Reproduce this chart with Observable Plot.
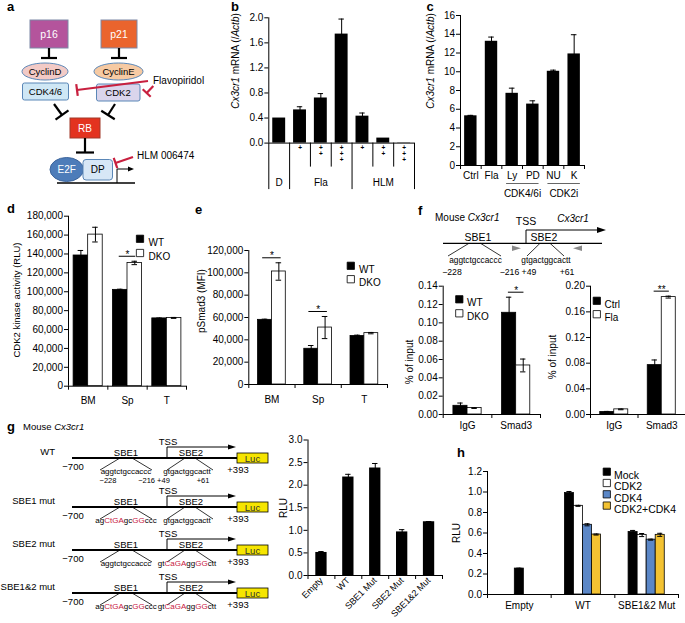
<!DOCTYPE html>
<html><head><meta charset="utf-8">
<script src="https://cdn.jsdelivr.net/npm/d3@7"></script>
<script src="https://cdn.jsdelivr.net/npm/@observablehq/plot@0.6"></script>
<style>
html,body{margin:0;padding:0;background:#fff;}
#fig{position:relative;width:685px;height:623px;overflow:hidden;background:#fff;font-family:"Liberation Sans",Arial,Helvetica,sans-serif;}
#fig svg{position:absolute;}
</style></head><body><div id="fig"></div>
<script>
// ---------------- data ----------------
// panel b
const bDose = ["", "+", "++", "+++", "+", "++", "+++"];
const bGroupOf = ["D", "Fla", "Fla", "Fla", "HLM", "HLM", "HLM"];
const bGroups = ["D", "Fla", "HLM"];
const bValues = [0.40, 0.53, 0.72, 1.74, 0.43, 0.08, 0.004];
const bErrors = [0, 0.05, 0.07, 0.24, 0.05, 0, 0];
const bTicks = [0, 0.4, 0.8, 1.2, 1.6, 2.0];
// panel c
const cCats = ["Ctrl", "Fla", "Ly", "PD", "NU", "K"];
const cValues = [5.3, 13.25, 7.7, 6.55, 10.05, 11.9];
const cErrors = [0.05, 0.45, 0.55, 0.35, 0.12, 2.05];
const cTicks = [0, 2, 4, 6, 8, 10, 12, 14, 16];
const cGroupLabels = ["CDK4/6i", "CDK2i"];
const cGroupFirst = ["Ly", "NU"];
const cGroupLast = ["PD", "K"];
// panel d
const dGroups = ["BM", "Sp", "T"];
const dSeries = ["WT", "DKO"];
const dWT = [138400, 102000, 71800];
const dWTErr = [5300, 700, 400];
const dDKO = [160500, 130500, 72300];
const dDKOErr = [7800, 1800, 500];
const dTicks = [0, 20000, 40000, 60000, 80000, 100000, 120000, 140000, 160000, 180000];
const dSigGroups = ["Sp"];
const dSigLabels = ["*"];
// panel e
const eGroups = ["BM", "Sp", "T"];
const eSeries = ["WT", "DKO"];
const eWT = [57900, 32000, 43500];
const eWTErr = [600, 2900, 700];
const eDKO = [101200, 51000, 46000];
const eDKOErr = [7800, 9900, 600];
const eTicks = [0, 20000, 40000, 60000, 80000, 100000, 120000];
const eSigGroups = ["BM", "Sp"];
const eSigLabels = ["*", "*"];
// panel f (left)
const fGroups = ["IgG", "Smad3"];
const f1Series = ["WT", "DKO"];
const f1WT = [0.0095, 0.111];
const f1WTErr = [0.003, 0.017];
const f1DKO = [0.007, 0.0535];
const f1DKOErr = [0.0004, 0.007];
const f1Ticks = [0, 0.02, 0.04, 0.06, 0.08, 0.10, 0.12, 0.14];
const f1SigGroups = ["Smad3"];
const f1SigLabels = ["*"];
// panel f (right)
const f2Series = ["Ctrl", "Fla"];
const f2Ctrl = [0.004, 0.077];
const f2CtrlErr = [0.0008, 0.008];
const f2Fla = [0.008, 0.183];
const f2FlaErr = [0.0006, 0.0015];
const f2Ticks = [0, 0.04, 0.08, 0.12, 0.16, 0.20];
const f2SigGroups = ["Smad3"];
const f2SigLabels = ["**"];
// panel g
const gCats = ["Empty", "WT", "SBE1 Mut", "SBE2 Mut", "SBE1&2 Mut"];
const gValues = [0.51, 2.18, 2.38, 0.965, 1.19];
const gErrors = [0.02, 0.06, 0.10, 0.05, 0.005];
const gTicks = [0, 0.5, 1.0, 1.5, 2.0, 2.5, 3.0];
// panel h
const hGroups = ["Empty", "WT", "SBE1&2 Mut"];
const hSeries = ["Mock", "CDK2", "CDK4", "CDK2+CDK4"];
const hMock = [0.253, 0.99, 0.61];
const hMockErr = [0.004, 0.015, 0.015];
const hCDK2 = [null, 0.865, 0.58];
const hCDK2Err = [null, 0.005, 0.015];
const hCDK4 = [null, 0.68, 0.535];
const hCDK4Err = [null, 0.01, 0.005];
const hBoth = [null, 0.585, 0.582];
const hBothErr = [null, 0.005, 0.015];
const hTicks = [0, 0.2, 0.4, 0.6, 0.8, 1.0, 1.2];

const binaryColors = ["#000000", "#ffffff"];
const hColors = ["#000000", "#ffffff", "#5b87c7", "#f3c232"];

// ---------------- helpers ----------------
const FONT = '"Liberation Sans", Arial, Helvetica, sans-serif';
const fig = document.getElementById("fig");

function place(svg, left, top) {
  svg.style.position = "absolute";
  svg.style.left = left + "px";
  svg.style.top = top + "px";
  fig.appendChild(svg);
}

function errorMarks(rows, xf, cap) {
  const r = rows.filter(d => d.err > 0);
  return [
    Plot.ruleX(r, {x: xf, y1: d => d.value - d.err, y2: d => d.value + d.err, stroke: "#000", strokeWidth: 1}),
    Plot.ruleY(r, {x1: d => xf(d) - cap, x2: d => xf(d) + cap, y: d => d.value + d.err, stroke: "#000", strokeWidth: 1}),
    Plot.ruleY(r, {x1: d => xf(d) - cap, x2: d => xf(d) + cap, y: d => d.value - d.err, stroke: "#000", strokeWidth: 1})
  ];
}

function barChart(cfg) {
  const {left, top, width, height, x0, x1, y0, yT, yMax, n} = cfg;
  const marks = [
    ...cfg.marks,
    Plot.ruleX([-0.5], {y1: 0, y2: yMax, stroke: "#000", strokeWidth: 1}),
    Plot.axisY({ticks: cfg.ticks, tickFormat: cfg.fmt, tickSize: 4, tickPadding: 1.5, label: null}),
    Plot.ruleY([0], {x1: -0.5, x2: n - 0.5, stroke: "#000", strokeWidth: 1})
  ];
  if (cfg.boundaryTicks !== false) {
    marks.push(Plot.ruleX(d3.range(n + 1).map(i => i - 0.5), {y1: 0, y2: 0, insetBottom: -4, stroke: "#000"}));
  }
  if (cfg.labels) {
    marks.push(Plot.axisX({ticks: d3.range(n), tickFormat: i => cfg.labels[i], tickSize: 0, tickPadding: cfg.labelPad, label: null}));
  }
  const opts = {
    width, height,
    marginLeft: x0 - left, marginRight: left + width - x1,
    marginTop: yT - top, marginBottom: top + height - y0,
    x: {type: "linear", domain: [-0.5, n - 0.5], axis: null},
    y: {type: "linear", domain: [0, yMax], axis: null},
    style: {background: "transparent", overflow: "visible", fontFamily: FONT, fontSize: "10px", color: "#000"},
    marks
  };
  if (cfg.color) opts.color = cfg.color;
  place(Plot.plot(opts), left, top);
}

function legendMarks(series, colors, cx, cy0, gap, textX, frameX, frameY, fs) {
  return series.flatMap((s, i) => [
    Plot.dot([s], {frameAnchor: "top-left", dx: cx - frameX, dy: cy0 + i * gap - frameY, symbol: "square", r: 4.1, fill: colors[i], stroke: "#000", strokeWidth: 0.8}),
    Plot.text([s], {frameAnchor: "top-left", dx: textX - frameX, dy: cy0 + i * gap - frameY, text: d => d, textAnchor: "start", fontSize: fs})
  ]);
}

function groupedChart(cfg) {
  const rows = [];
  cfg.groups.forEach((g, gi) => {
    const present = cfg.series.map((s, j) => j).filter(j => cfg.values[j][gi] != null);
    present.forEach((j, k) => rows.push({group: g, gi, series: cfg.series[j], k, m: present.length, value: cfg.values[j][gi], err: cfg.errors[j][gi]}));
  });
  const bw = cfg.bw;
  const xp = r => r.gi + (r.k - (r.m - 1) / 2) * bw;
  const sig = (cfg.sigGroups || []).map((g, i) => ({
    gi: cfg.groups.indexOf(g),
    top: d3.max(rows.filter(r => r.group === g), r => r.value + r.err),
    label: cfg.sigLabels[i]
  }));
  const marks = [
    Plot.rect(rows, {x1: r => xp(r) - bw / 2, x2: r => xp(r) + bw / 2, y1: 0, y2: "value", fill: "series", stroke: "#000", strokeWidth: 0.8}),
    ...errorMarks(rows, xp, cfg.cap),
    Plot.ruleY(sig, {x1: d => d.gi - cfg.sigHalf, x2: d => d.gi + cfg.sigHalf, y: "top", dy: -5, stroke: "#000", strokeWidth: 1}),
    Plot.text(sig, {x: "gi", y: "top", text: "label", dy: -6.5, fontSize: 10}),
    ...legendMarks(cfg.series, cfg.colors, cfg.legX, cfg.legY, cfg.legGap, cfg.legTextX, cfg.x0, cfg.yT, cfg.legFs || 10)
  ];
  barChart({...cfg, n: cfg.groups.length, labels: cfg.groups, marks,
    color: {domain: cfg.series, range: cfg.colors, legend: false}});
}

// ---------------- overlay (schematics, titles, panel letters) ----------------
const RED = "#c8203f";
function tInhib(x1, y1, x2, y2, half, color, w) {
  const dx = x2 - x1, dy = y2 - y1, L = Math.hypot(dx, dy);
  const px = -dy / L * half, py = dx / L * half;
  return `<line x1="${x1}" y1="${y1}" x2="${x2}" y2="${y2}" stroke="${color}" stroke-width="${w}"/>` +
         `<line x1="${x2 - px}" y1="${y2 - py}" x2="${x2 + px}" y2="${y2 + py}" stroke="${color}" stroke-width="${w}"/>`;
}
function esc(s) { return s.replace(/&/g, "&amp;").replace(/</g, "&lt;"); }
function ctext(x, y, t, fs, extra = "") {
  return `<text x="${x}" y="${y}" font-size="${fs}" text-anchor="middle" dominant-baseline="central" ${extra}>${esc(t)}</text>`;
}
function vtext(x, y, parts, fs) {
  return `<text transform="translate(${x},${y}) rotate(-90)" text-anchor="middle" font-size="${fs}">` +
    parts.map(([t, it]) => `<tspan${it ? ' font-style="italic"' : ''}>${esc(t)}</tspan>`).join("") + `</text>`;
}
function seqText(x, y, segs, fs) {
  return `<text x="${x}" y="${y}" font-size="${fs}" text-anchor="middle">` +
    segs.map(([t, r]) => `<tspan fill="${r ? RED : '#000'}">${t}</tspan>`).join("") + `</text>`;
}
function letter(x, y, t) {
  return `<text x="${x}" y="${y}" font-size="13" font-weight="bold">${t}</text>`;
}

let ov = "";
// panel letters
ov += letter(7, 11, "a") + letter(231, 11, "b") + letter(426.5, 11, "c") + letter(7, 213, "d") +
      letter(195, 214, "e") + letter(418, 215, "f") + letter(7, 431, "g") + letter(457, 457, "h");

// panel a schematic
const BL = "#5b87b7";
ov += `<rect x="30" y="20" width="38" height="28" fill="#b4549c" stroke="#7d87a6"/>`;
ov += ctext(49, 34, "p16", 10.5, 'fill="#fff"');
ov += `<rect x="101" y="20" width="36" height="28" fill="#ea642d" stroke="#7d87a6"/>`;
ov += ctext(119, 34, "p21", 10.5, 'fill="#fff"');
ov += tInhib(49, 48, 49, 58, 8, "#000", 2.2) + tInhib(119, 48, 119, 58, 8, "#000", 2.2);
ov += `<ellipse cx="45" cy="71.5" rx="23" ry="8.5" fill="#f2cac6" stroke="${BL}"/>` + ctext(45, 71.5, "CyclinD", 9.5);
ov += `<ellipse cx="118.5" cy="71.5" rx="24.5" ry="8.5" fill="#f6caa3" stroke="${BL}"/>` + ctext(118.5, 71.5, "CyclinE", 9.5);
ov += `<rect x="22.5" y="83" width="46" height="17" rx="2" fill="#cfe7f5" stroke="${BL}"/>` + ctext(45.5, 91.5, "CDK4/6", 9.5);
ov += `<rect x="96.5" y="84" width="43.5" height="17" rx="2" fill="#dad5ec" stroke="${BL}"/>` + ctext(118, 92.5, "CDK2", 9.5);
ov += tInhib(148, 81, 77, 90, 6, RED, 2.2) + tInhib(153.3, 86, 146.7, 93, 5.5, RED, 2.2);
ov += `<text x="153" y="80" font-size="10" dominant-baseline="central">Flavopiridol</text>`;
ov += tInhib(54, 104, 62, 115, 8, "#000", 2.2) + tInhib(115, 104, 108, 115, 8, "#000", 2.2);
ov += `<rect x="70" y="118" width="30" height="20" fill="#e3331f" stroke="#a23a2a"/>` + ctext(85, 128, "RB", 10, 'fill="#fff"');
ov += tInhib(85, 138, 85, 152.5, 9, "#000", 2.2);
ov += `<ellipse cx="66.7" cy="169.5" rx="16.7" ry="12" fill="#4d7cb9" stroke="#3d659c"/>` + ctext(66.7, 169.5, "E2F", 10, 'fill="#fff"');
ov += `<rect x="83" y="159.5" width="29.5" height="20.5" rx="3" fill="#d7e7f6" stroke="${BL}"/>` + ctext(97.7, 169.7, "DP", 10);
ov += tInhib(133, 157, 115.5, 163, 5.5, RED, 2.2);
ov += `<text x="137" y="155" font-size="10" dominant-baseline="central">HLM 006474</text>`;
ov += `<line x1="57" y1="183" x2="135" y2="183" stroke="#000" stroke-width="1.3"/>`;
ov += `<polyline points="117,183 117,169 129,169" fill="none" stroke="#000" stroke-width="1"/><path d="M128,166.5 L134,169 L128,171.5 Z" fill="#000"/>`;

// axis titles
ov += vtext(238.5, 61, [["Cx3cr1", true], [" mRNA (/", false], ["Actb", true], [")", false]], 10);
ov += vtext(433.5, 61, [["Cx3cr1", true], [" mRNA (/", false], ["Actb", true], [")", false]], 10);
ov += vtext(20, 300, [["CDK2 kinase activity (RLU)", false]], 9.5);
ov += vtext(205, 301, [["pSmad3  (MFI)", false]], 10);
ov += vtext(413, 362, [["% of input", false]], 10);
ov += vtext(555.5, 357, [["% of input", false]], 10);
ov += vtext(287, 508, [["RLU", false]], 10);
ov += vtext(460, 533, [["RLU", false]], 10);

// panel f schematic
ov += `<text x="435" y="221" font-size="10">Mouse <tspan font-style="italic">Cx3cr1</tspan></text>`;
ov += `<text x="526" y="225" font-size="10.5" text-anchor="middle">TSS</text>`;
ov += `<text x="573" y="222" font-size="10" text-anchor="middle" font-style="italic">Cx3cr1</text>`;
ov += `<line x1="443" y1="243.3" x2="602" y2="243.3" stroke="#000" stroke-width="1.3"/>`;
ov += `<polyline points="526,243.3 526,230 598,230" fill="none" stroke="#000" stroke-width="1"/><path d="M597,227 L606,230 L597,233 Z" fill="#000"/>`;
ov += `<text x="478" y="241" font-size="10.5" text-anchor="middle">SBE1</text><text x="544" y="241" font-size="10.5" text-anchor="middle">SBE2</text>`;
ov += `<line x1="469" y1="243.3" x2="448" y2="256" stroke="#000" stroke-width="0.8"/><line x1="480.5" y1="243.3" x2="501" y2="256" stroke="#000" stroke-width="0.8"/>`;
ov += `<line x1="540" y1="243.3" x2="527" y2="256" stroke="#000" stroke-width="0.8"/><line x1="550" y1="243.3" x2="564" y2="256" stroke="#000" stroke-width="0.8"/>`;
ov += seqText(475.5, 263, [["aggtctgccaccc", 0]], 8.3) + seqText(546, 263, [["gtgactggcactt", 0]], 8.3);
ov += `<text x="452" y="275" font-size="8.7" text-anchor="middle">−228</text><text x="518" y="275" font-size="8.7" text-anchor="middle">−216 +49</text><text x="567" y="275" font-size="8.7" text-anchor="middle">+61</text>`;
ov += `<path d="M512,245.6 L521,248.3 L512,251 Z" fill="#888"/><path d="M582,245.6 L573,248.3 L582,251 Z" fill="#888"/>`;

// panel g schematic
ov += `<text x="23" y="430" font-size="9.5">Mouse <tspan font-style="italic">Cx3cr1</tspan></text>`;
const gRowNames = ["WT", "SBE1 mut", "SBE2 mut", "SBE1&2 mut"];
const gRowY = [458, 507, 550, 593];
const seq1wt = [["aggtctgccaccc", 0]];
const seq1mut = [["ag", 0], ["CtGA", 1], ["gc", 0], ["GG", 1], ["ccc", 0]];
const seq2wt = [["gtgactggcactt", 0]];
const seq2mut = [["gt", 0], ["CaGA", 1], ["gg", 0], ["GG", 1], ["ctt", 0]];
const gSeq1 = [seq1wt, seq1mut, seq1wt, seq1mut];
const gSeq2 = [seq2wt, seq2wt, seq2mut, seq2mut];
gRowNames.forEach((name, i) => {
  const y = gRowY[i];
  ov += `<text x="55" y="${y - 3}" font-size="9.5" text-anchor="end">${esc(name)}</text>`;
  ov += `<line x1="72" y1="${y}" x2="237" y2="${y}" stroke="#000" stroke-width="1.8"/>`;
  ov += `<rect x="237" y="${y - 5}" width="31" height="10" fill="#f6e500" stroke="#000" stroke-width="0.8"/>`;
  ov += ctext(252.5, y + 0.3, "Luc", 9.5, 'fill="#333"');
  ov += `<text x="168" y="${y - 13.5}" font-size="9.5" text-anchor="middle">TSS</text>`;
  ov += `<polyline points="167,${y} 167,${y - 11} 229,${y - 11}" fill="none" stroke="#000" stroke-width="1"/><path d="M228,${y - 13.5} L236,${y - 11} L228,${y - 8.5} Z" fill="#000"/>`;
  ov += `<text x="126" y="${y - 2.5}" font-size="9.5" text-anchor="middle">SBE1</text><text x="191" y="${y - 2.5}" font-size="9.5" text-anchor="middle">SBE2</text>`;
  ov += `<line x1="120" y1="${y}" x2="100" y2="${y + 12}" stroke="#000" stroke-width="0.8"/><line x1="132" y1="${y}" x2="152" y2="${y + 12}" stroke="#000" stroke-width="0.8"/>`;
  ov += `<line x1="185" y1="${y}" x2="167" y2="${y + 12}" stroke="#000" stroke-width="0.8"/><line x1="195" y1="${y}" x2="213" y2="${y + 12}" stroke="#000" stroke-width="0.8"/>`;
  ov += seqText(126, y + 15.5, gSeq1[i], 8) + seqText(187, y + 15.5, gSeq2[i], 8);
  ov += `<text x="73" y="${y + 12}" font-size="9.5" text-anchor="middle">−700</text>`;
  ov += `<text x="238" y="${y + 15}" font-size="9.5" text-anchor="middle">+393</text>`;
  if (i === 0) {
    ov += `<text x="108" y="${y + 25}" font-size="7.5" text-anchor="middle">−228</text><text x="154" y="${y + 25}" font-size="7.5" text-anchor="middle">−216 +49</text><text x="203" y="${y + 25}" font-size="7.5" text-anchor="middle">+61</text>`;
  }
});

const overlay = document.createElementNS("http://www.w3.org/2000/svg", "svg");
overlay.setAttribute("width", 685); overlay.setAttribute("height", 623);
overlay.setAttribute("font-family", FONT);
overlay.style.left = "0px"; overlay.style.top = "0px";
overlay.innerHTML = ov;
fig.appendChild(overlay);

// ---------------- charts ----------------
// b
const bRows = bValues.map((v, i) => ({i, value: v, err: bErrors[i], dose: bDose[i], group: bGroupOf[i]}));
const bPlus = bRows.flatMap(r => d3.range(r.dose.length).map(level => ({i: r.i, level, sign: r.dose[level]})));
const bBounds = d3.range(bValues.length + 1);
const isLong = k => k === 0 || k === bValues.length || bGroupOf[k - 1] !== bGroupOf[k];
barChart({
  left: 220, top: 0, width: 200, height: 205, x0: 268.3, x1: 414, y0: 142.6, yT: 17.3, yMax: 2.0, n: bValues.length,
  ticks: bTicks, fmt: d => d.toFixed(1), boundaryTicks: false,
  marks: [
    Plot.rect(bRows, {x1: d => d.i - 0.31, x2: d => d.i + 0.31, y1: 0, y2: "value", fill: "#000"}),
    ...errorMarks(bRows, d => d.i, 0.13),
    Plot.ruleX(bBounds.filter(isLong).map(k => k - 0.5), {y1: 0, y2: 0, insetBottom: -46.5, stroke: "#000"}),
    Plot.ruleX(bBounds.filter(k => !isLong(k)).map(k => k - 0.5), {y1: 0, y2: 0, insetBottom: -24, stroke: "#000"}),
    ...[0, 1, 2].map(level => Plot.text(bPlus.filter(p => p.level === level), {x: "i", y: 0, text: "sign", dy: 4.4 + level * 6.4, fontSize: 6.5, fontWeight: "bold", fill: "#000"})),
    Plot.text(bGroups, {x: g => d3.mean(bRows.filter(r => r.group === g), r => r.i), y: 0, text: d => d, dy: 39.3, fontSize: 10})
  ]
});

// c
const cRows = cValues.map((v, i) => ({i, value: v, err: cErrors[i]}));
const cGroupData = cGroupLabels.map((label, j) => ({label, first: cCats.indexOf(cGroupFirst[j]), last: cCats.indexOf(cGroupLast[j])}));
barChart({
  left: 430, top: 0, width: 255, height: 205, x0: 460, x1: 584, y0: 165, yT: 15, yMax: 16, n: cCats.length,
  ticks: cTicks, fmt: d => String(d), labels: cCats, labelPad: 6.6,
  marks: [
    Plot.rect(cRows, {x1: d => d.i - 0.3, x2: d => d.i + 0.3, y1: 0, y2: "value", fill: "#000"}),
    ...errorMarks(cRows, d => d.i, 0.135),
    Plot.ruleY(cGroupData, {x1: d => d.first - 0.27, x2: d => d.last + 0.3, y: 0, dy: 18, stroke: "#666", strokeWidth: 1.2}),
    Plot.text(cGroupData, {x: d => (d.first + d.last) / 2, y: 0, text: "label", dy: 28.5, fontSize: 10})
  ]
});

// d
groupedChart({
  left: 0, top: 200, width: 230, height: 215, x0: 68, x1: 186, y0: 385.7, yT: 215.7, yMax: 180000,
  ticks: dTicks, fmt: d3.format(","), labelPad: 11,
  groups: dGroups, series: dSeries, values: [dWT, dDKO], errors: [dWTErr, dDKOErr], colors: binaryColors,
  bw: 0.37, cap: 0.07, sigGroups: dSigGroups, sigLabels: dSigLabels, sigHalf: 0.21,
  legX: 139.5, legY: 238.3, legGap: 14.2, legTextX: 148
});

// e
groupedChart({
  left: 230, top: 200, width: 190, height: 215, x0: 248.3, x1: 387, y0: 384, yT: 250, yMax: 120000,
  ticks: eTicks, fmt: d3.format(","), labelPad: 11.3,
  groups: eGroups, series: eSeries, values: [eWT, eDKO], errors: [eWTErr, eDKOErr], colors: binaryColors,
  bw: 0.3, cap: 0.06, sigGroups: eSigGroups, sigLabels: eSigLabels, sigHalf: 0.2,
  legX: 350.3, legY: 265.3, legGap: 13.4, legTextX: 358.5
});

// f left
groupedChart({
  left: 400, top: 270, width: 145, height: 165, x0: 442.7, x1: 540, y0: 414, yT: 285.7, yMax: 0.14,
  ticks: f1Ticks, fmt: d => d.toFixed(2), labelPad: 7.8,
  groups: fGroups, series: f1Series, values: [f1WT, f1DKO], errors: [f1WTErr, f1DKOErr], colors: binaryColors,
  bw: 0.29, cap: 0.055, sigGroups: f1SigGroups, sigLabels: f1SigLabels, sigHalf: 0.16,
  legX: 458.8, legY: 298.8, legGap: 14, legTextX: 466.5
});

// f right
groupedChart({
  left: 545, top: 270, width: 140, height: 165, x0: 590, x1: 685, y0: 414, yT: 285.7, yMax: 0.20,
  ticks: f2Ticks, fmt: d => d.toFixed(2), labelPad: 7.8,
  groups: fGroups, series: f2Series, values: [f2Ctrl, f2Fla], errors: [f2CtrlErr, f2FlaErr], colors: binaryColors,
  bw: 0.295, cap: 0.057, sigGroups: f2SigGroups, sigLabels: f2SigLabels, sigHalf: 0.16,
  legX: 596.3, legY: 300.3, legGap: 13.4, legTextX: 604
});

// g
const gRows = gValues.map((v, i) => ({i, value: v, err: gErrors[i], label: gCats[i]}));
barChart({
  left: 270, top: 430, width: 180, height: 193, x0: 307.5, x1: 442, y0: 575, yT: 439.5, yMax: 3.0, n: gCats.length,
  ticks: gTicks, fmt: d => d.toFixed(1),
  marks: [
    Plot.rect(gRows, {x1: d => d.i - 0.21, x2: d => d.i + 0.21, y1: 0, y2: "value", fill: "#000"}),
    ...errorMarks(gRows, d => d.i, 0.1),
    Plot.text(gRows, {x: "i", y: 0, text: "label", rotate: -45, textAnchor: "end", dx: 0, dy: 3.5, fontSize: 9})
  ]
});

// h
groupedChart({
  left: 450, top: 440, width: 235, height: 183, x0: 487, x1: 678, y0: 594, yT: 471, yMax: 1.2,
  ticks: hTicks, fmt: d => d.toFixed(1), labelPad: 7.8,
  groups: hGroups, series: hSeries, values: [hMock, hCDK2, hCDK4, hBoth], errors: [hMockErr, hCDK2Err, hCDK4Err, hBothErr],
  colors: hColors, bw: 0.142, cap: 0.04,
  legX: 606.3, legY: 471.2, legGap: 11.3, legTextX: 613.5, legFs: 10.5
});
</script></body></html>
